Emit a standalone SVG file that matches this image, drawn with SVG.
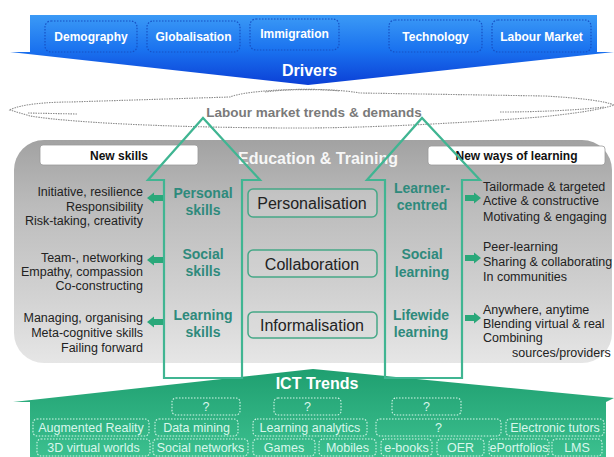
<svg xmlns="http://www.w3.org/2000/svg" width="614" height="457" viewBox="0 0 614 457">
<defs>
<linearGradient id="gBlue" x1="0" y1="0" x2="0" y2="1">
<stop offset="0" stop-color="#3b9af6"/>
<stop offset="0.5" stop-color="#1a72ef"/>
<stop offset="1" stop-color="#0b3fd6"/>
</linearGradient>
<linearGradient id="gGray" x1="0" y1="0" x2="0" y2="1">
<stop offset="0" stop-color="#a2a2a2"/>
<stop offset="0.3" stop-color="#bcbcbc"/>
<stop offset="0.7" stop-color="#d2d2d2"/>
<stop offset="1" stop-color="#e6e6e6"/>
</linearGradient>
<linearGradient id="gGreen" x1="0" y1="0" x2="0" y2="1">
<stop offset="0" stop-color="#1f9f70"/>
<stop offset="1" stop-color="#3cc08f"/>
</linearGradient>
</defs>
<style>
text{font-family:"Liberation Sans",Arial,sans-serif}
.bt{fill:#fff;font-weight:bold;font-size:12px;text-anchor:middle}
.bbox{fill:none;stroke:#1650c4;stroke-width:1.2;stroke-dasharray:1.5 1.5}
.gbox{fill:none;stroke:#d4f6e8;stroke-width:1.1;stroke-dasharray:1.5 1.5}
.gt{fill:#d9f7ec;font-size:12.5px;text-anchor:middle}
.lt{fill:#222;font-size:12.5px;text-anchor:end}
.rt{fill:#222;font-size:12.5px;text-anchor:start}
.sk{fill:#2e8a7c;font-weight:bold;font-size:14px;text-anchor:middle}
.cb{fill:#dadada;fill-opacity:0.35;stroke:#45a887;stroke-width:1.5}
.ct{fill:#222;font-size:16px;text-anchor:middle}
.hb{fill:#fff;stroke:#999;stroke-width:0.8}
.ht{fill:#111;font-weight:bold;font-size:12px;text-anchor:middle}
.big{fill:none;stroke:#40b592;stroke-width:2.2}
.sm{fill:#2aa87a}
.cl{fill:none;stroke:#8c8c8c;stroke-width:1.1;stroke-dasharray:1.5 1}
</style>

<g id="cloud">
<path d="M10,110 C20,104 50,102 70,102 L230,97 C245,90 320,86 360,93 L545,96 C580,98 605,101 614,105 C600,110 570,114 540,117 C450,124 360,128 300,128 C200,128 80,124 30,116 Z" fill="#fff" class="cl"/>
<path class="cl" d="M28,113 L78,114"/>
<path class="cl" d="M500,112 C540,112 580,110 604,107"/>
<path class="cl" d="M265,92 C285,89 320,89 340,91"/>
<text x="314" y="117" fill="#7a7a7a" font-weight="bold" font-size="13.5" text-anchor="middle">Labour market trends &amp; demands</text>
</g>

<g id="drivers">
<path d="M30,15 L597,15 L597,52 L614,52 L308,85 L10,52 L30,52 Z" fill="url(#gBlue)"/>
<text x="309.5" y="76" fill="#fff" font-weight="bold" font-size="16" text-anchor="middle">Drivers</text>
</g>
<g id="demography"><rect class="bbox" x="45" y="21" width="92" height="31" rx="6"/><text class="bt" x="91" y="41">Demography</text></g>
<g id="globalisation"><rect class="bbox" x="147" y="21" width="93" height="31" rx="6"/><text class="bt" x="193.5" y="41">Globalisation</text></g>
<g id="immigration"><rect class="bbox" x="250" y="19" width="89" height="31" rx="6"/><text class="bt" x="294.5" y="38">Immigration</text></g>
<g id="technology"><rect class="bbox" x="389" y="20" width="93" height="32" rx="6"/><text class="bt" x="435.5" y="41">Technology</text></g>
<g id="labour-market"><rect class="bbox" x="492" y="20" width="99" height="32" rx="6"/><text class="bt" x="541.5" y="41">Labour Market</text></g>

<g id="education-training">
<rect x="14" y="140" width="598" height="223" rx="30" fill="url(#gGray)"/>
<text x="318" y="164" fill="#fff" fill-opacity="0.92" font-weight="bold" font-size="16" text-anchor="middle">Education &amp; Training</text>
</g>

<g id="ict-trends">
<path d="M30,402 L13,402 L313,369 L614,398 L606,402 L606,457 L30,457 Z" fill="url(#gGreen)"/>
<text x="317" y="389" fill="#fff" font-weight="bold" font-size="16" text-anchor="middle">ICT Trends</text>
</g>

<g id="new-skills"><rect class="hb" x="40" y="145" width="158" height="20" rx="3"/><text class="ht" x="119" y="160">New skills</text></g>
<g id="new-ways"><rect class="hb" x="428" y="146" width="177" height="19" rx="3"/><text class="ht" x="516.5" y="160">New ways of learning</text></g>

<g id="connectors">
<path class="big" d="M164,378 V180 H148 L203,118 L260,180 H242 V378 Z"/>
<path class="big" d="M385,378 V180 H367 L422,118 L480,180 H462 V378 Z"/>
<path class="sm" d="M147,198 L154,192.5 V195 H163 V201 H154 V203.5 Z"/>
<path class="sm" d="M147,260 L154,254.5 V257 H163 V263 H154 V265.5 Z"/>
<path class="sm" d="M147,322 L154,316.5 V319 H163 V325 H154 V327.5 Z"/>
<path class="sm" d="M481,198 L474,192.5 V195 H465 V201 H474 V203.5 Z"/>
<path class="sm" d="M481,258 L474,252.5 V255 H465 V261 H474 V263.5 Z"/>
<path class="sm" d="M481,318 L474,312.5 V315 H465 V321 H474 V323.5 Z"/>
</g>

<g id="personal-skills-list">
<text class="lt" x="143" y="196">Initiative, resilience</text>
<text class="lt" x="143" y="211">Responsibility</text>
<text class="lt" x="143" y="225">Risk-taking, creativity</text>
</g>
<g id="social-skills-list">
<text class="lt" x="143" y="262">Team-, networking</text>
<text class="lt" x="143" y="276">Empathy, compassion</text>
<text class="lt" x="143" y="290">Co-constructing</text>
</g>
<g id="learning-skills-list">
<text class="lt" x="143" y="322">Managing, organising</text>
<text class="lt" x="143" y="337">Meta-cognitive skills</text>
<text class="lt" x="143" y="352">Failing forward</text>
</g>

<g id="personal-skills"><text class="sk" x="203" y="198">Personal</text><text class="sk" x="203" y="215">skills</text></g>
<g id="social-skills"><text class="sk" x="203" y="259">Social</text><text class="sk" x="203" y="276">skills</text></g>
<g id="learning-skills"><text class="sk" x="203" y="320">Learning</text><text class="sk" x="203" y="337">skills</text></g>

<g id="personalisation"><rect class="cb" x="248" y="189" width="129" height="28" rx="5"/><text class="ct" x="312" y="209">Personalisation</text></g>
<g id="collaboration"><rect class="cb" x="248" y="250" width="129" height="27" rx="5"/><text class="ct" x="312" y="269.5">Collaboration</text></g>
<g id="informalisation"><rect class="cb" x="248" y="312" width="129" height="26" rx="5"/><text class="ct" x="312" y="331">Informalisation</text></g>

<g id="learner-centred"><text class="sk" x="422" y="193">Learner-</text><text class="sk" x="422" y="210">centred</text></g>
<g id="social-learning"><text class="sk" x="422" y="259">Social</text><text class="sk" x="422" y="277">learning</text></g>
<g id="lifewide-learning"><text class="sk" x="421" y="320">Lifewide</text><text class="sk" x="421" y="337">learning</text></g>

<g id="learner-centred-list">
<text class="rt" x="483" y="191">Tailormade &amp; targeted</text>
<text class="rt" x="483" y="205">Active &amp; constructive</text>
<text class="rt" x="483" y="221">Motivating &amp; engaging</text>
</g>
<g id="social-learning-list">
<text class="rt" x="483" y="251">Peer-learning</text>
<text class="rt" x="483" y="266">Sharing &amp; collaborating</text>
<text class="rt" x="483" y="281">In communities</text>
</g>
<g id="lifewide-learning-list">
<text class="rt" x="483" y="314">Anywhere, anytime</text>
<text class="rt" x="483" y="328">Blending virtual &amp; real</text>
<text class="rt" x="483" y="342">Combining</text>
<text class="rt" x="512" y="357">sources/providers</text>
</g>

<g id="q1"><rect class="gbox" x="172" y="398" width="68" height="17" rx="4"/><text class="gt" x="206" y="411">?</text></g>
<g id="q2"><rect class="gbox" x="274" y="398" width="67" height="17" rx="4"/><text class="gt" x="307.5" y="411">?</text></g>
<g id="q3"><rect class="gbox" x="392" y="398" width="69" height="17" rx="4"/><text class="gt" x="426.5" y="411">?</text></g>

<g id="augmented-reality"><rect class="gbox" x="33" y="419" width="116" height="17" rx="4"/><text class="gt" x="91" y="432">Augmented Reality</text></g>
<g id="data-mining"><rect class="gbox" x="155" y="419" width="83" height="17" rx="4"/><text class="gt" x="196.5" y="432">Data mining</text></g>
<g id="learning-analytics"><rect class="gbox" x="253" y="419" width="114" height="17" rx="4"/><text class="gt" x="310" y="432">Learning analytics</text></g>
<g id="q4"><rect class="gbox" x="376" y="419" width="125" height="17" rx="4"/><text class="gt" x="438.5" y="432">?</text></g>
<g id="electronic-tutors"><rect class="gbox" x="506" y="419" width="98" height="17" rx="4"/><text class="gt" x="555" y="432">Electronic tutors</text></g>

<g id="virtual-worlds"><rect class="gbox" x="37" y="439" width="113" height="17" rx="4"/><text class="gt" x="93.5" y="452">3D virtual worlds</text></g>
<g id="social-networks"><rect class="gbox" x="153" y="439" width="95" height="17" rx="4"/><text class="gt" x="200.5" y="452">Social networks</text></g>
<g id="games"><rect class="gbox" x="253" y="439" width="62" height="17" rx="4"/><text class="gt" x="284" y="452">Games</text></g>
<g id="mobiles"><rect class="gbox" x="319" y="439" width="57" height="17" rx="4"/><text class="gt" x="347.5" y="452">Mobiles</text></g>
<g id="e-books"><rect class="gbox" x="381" y="439" width="51" height="17" rx="4"/><text class="gt" x="406.5" y="452">e-books</text></g>
<g id="oer"><rect class="gbox" x="437" y="439" width="47" height="17" rx="4"/><text class="gt" x="460.5" y="452">OER</text></g>
<g id="eportfolios"><rect class="gbox" x="489" y="439" width="60" height="17" rx="4"/><text class="gt" x="519" y="452">ePortfolios</text></g>
<g id="lms"><rect class="gbox" x="552" y="439" width="50" height="17" rx="4"/><text class="gt" x="577" y="452">LMS</text></g>
</svg>
